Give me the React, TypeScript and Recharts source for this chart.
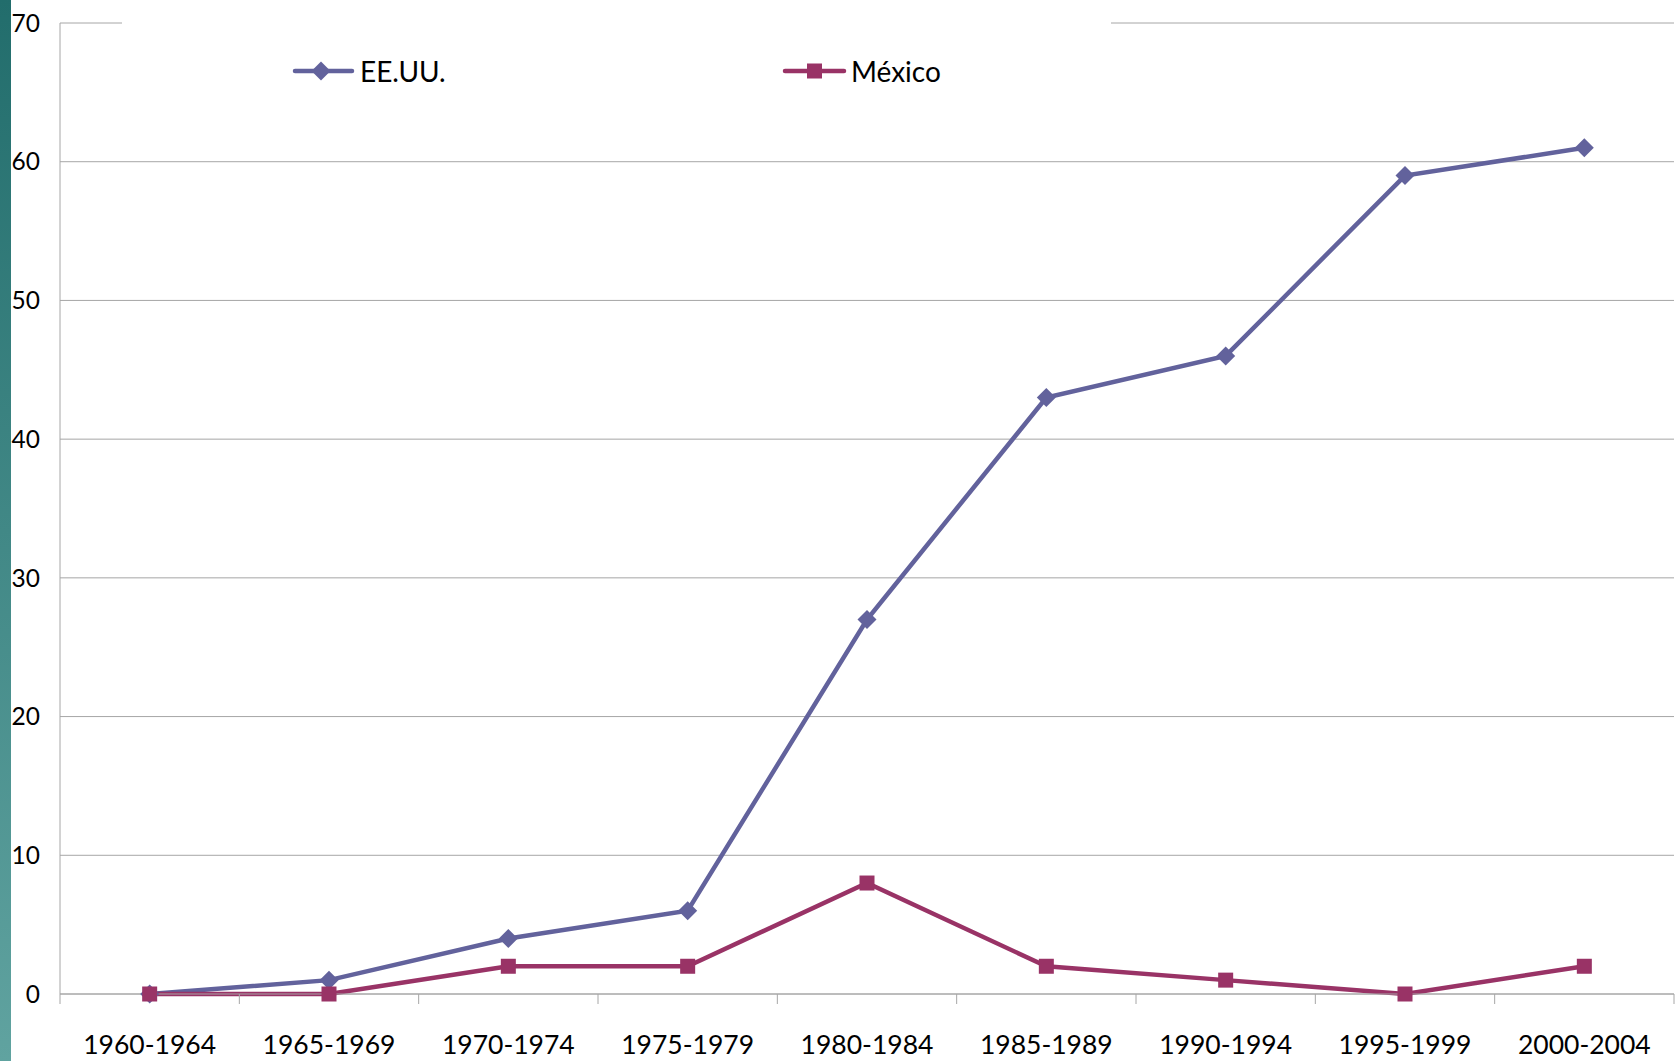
import { LineChart, Line, XAxis, YAxis, CartesianGrid } from "recharts";

const periods = [
  "1960-1964",
  "1965-1969",
  "1970-1974",
  "1975-1979",
  "1980-1984",
  "1985-1989",
  "1990-1994",
  "1995-1999",
  "2000-2004",
];
const usaValues = [0, 1, 4, 6, 27, 43, 46, 59, 61];
const mexicoValues = [0, 0, 2, 2, 8, 2, 1, 0, 2];
const yTicks = [0, 10, 20, 30, 40, 50, 60, 70];

const USA_COLOR = "#62629c";
const MEX_COLOR = "#993366";
const GRID = "#a6a6a6";
const FONT = "Lato, 'Open Sans', sans-serif";

const W = 1675;
const H = 1061;
const LEFT = 60;
const RIGHT = 1;
const BAND = (W - LEFT - RIGHT) / periods.length;

const data = periods.map((period, i) => ({
  pos: i + 0.5,
  period,
  usa: usaValues[i],
  mexico: mexicoValues[i],
}));
const boundaryTicks = periods.map((_, i) => i).concat(periods.length);

function PeriodTick(props: any) {
  const { x, y, payload } = props;
  const label = periods[payload.value];
  if (!label) return null;
  return (
    <text
      x={x + BAND / 2}
      y={y}
      dy="0.71em"
      textAnchor="middle"
      fill="#000"
      fontSize={26.5}
      fontFamily={FONT}
    >
      {label}
    </text>
  );
}

function Diamond(props: any) {
  const { cx, cy, index } = props;
  const r = 9.5;
  return (
    <path
      key={`d-${index}`}
      d={`M${cx},${cy - r}L${cx + r},${cy}L${cx},${cy + r}L${cx - r},${cy}Z`}
      fill={USA_COLOR}
    />
  );
}

function Square(props: any) {
  const { cx, cy, index } = props;
  const r = 7.5;
  return (
    <rect key={`s-${index}`} x={cx - r} y={cy - r} width={r * 2} height={r * 2} fill={MEX_COLOR} />
  );
}

// legend sits on a white box that hides the top gridline, like the original
function LegendBox() {
  return (
    <svg
      width={989}
      height={110}
      style={{ position: "absolute", left: 122, top: 0, background: "#fff" }}
    >
      <line x1={173} y1={71} x2={230} y2={71} stroke={USA_COLOR} strokeWidth={4.5} strokeLinecap="round" />
      <path d="M199,61.5L208.5,71L199,80.5L189.5,71Z" fill={USA_COLOR} />
      <text x={238} y={72} dy="0.355em" fontSize={28} fontFamily={FONT} fill="#000">
        EE.UU.
      </text>
      <line x1={663} y1={71} x2={722} y2={71} stroke={MEX_COLOR} strokeWidth={4.5} strokeLinecap="round" />
      <rect x={685} y={63.5} width={15} height={15} fill={MEX_COLOR} />
      <text x={729} y={72} dy="0.355em" fontSize={28} fontFamily={FONT} fill="#000">
        México
      </text>
    </svg>
  );
}

export default function App() {
  return (
    <div style={{ position: "absolute", left: 0, top: 0, width: W, height: H, background: "#fff" }}>
      <div
        style={{
          position: "absolute",
          left: 0,
          top: 0,
          width: 11,
          height: H,
          background: "linear-gradient(#226d6c, #60a3a0)",
        }}
      />
      <LineChart
        width={W}
        height={H}
        data={data}
        margin={{ top: 23, right: RIGHT, left: 0, bottom: 0 }}
      >
        <CartesianGrid horizontal vertical={false} stroke={GRID} strokeWidth={1} />
        <XAxis
          dataKey="pos"
          type="number"
          domain={[0, periods.length]}
          ticks={boundaryTicks}
          interval={0}
          height={67}
          tickSize={10}
          tickMargin={31}
          stroke={GRID}
          tick={<PeriodTick />}
        />
        <YAxis
          domain={[0, 70]}
          ticks={yTicks}
          interval={0}
          width={LEFT}
          tickLine={false}
          tickSize={0}
          tickMargin={20}
          stroke={GRID}
          tick={{ fill: "#000", fontSize: 24.5, fontFamily: FONT }}
        />
        <Line
          dataKey="usa"
          name="EE.UU."
          type="linear"
          stroke={USA_COLOR}
          strokeWidth={4.5}
          dot={Diamond}
          activeDot={false}
          isAnimationActive={false}
        />
        <Line
          dataKey="mexico"
          name="México"
          type="linear"
          stroke={MEX_COLOR}
          strokeWidth={4.5}
          dot={Square}
          activeDot={false}
          isAnimationActive={false}
        />
      </LineChart>
      <LegendBox />
    </div>
  );
}
